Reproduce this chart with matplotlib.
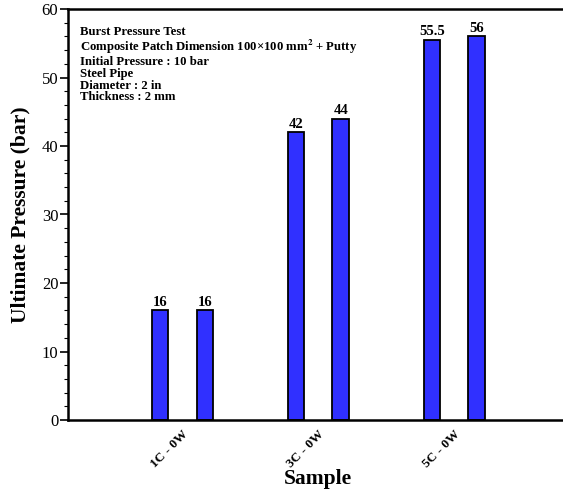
from matplotlib import pyplot as plt
from matplotlib.ticker import MultipleLocator
from matplotlib.transforms import ScaledTranslation
import numpy as np

plt.rcParams['font.family'] = ['Liberation Serif', 'DejaVu Serif']
plt.rcParams['mathtext.fontset'] = 'stix'

muestras = ['1C - 0W', '3C - 0W', '5C - 0W']
presion_1 = [16, 42, 55.5]
presion_2 = [16, 44, 56]
etiquetas_1 = ['16', '42', '55.5']
etiquetas_2 = ['16', '44', '56']

nota = ('Burst Pressure Test\n'
        'Composite Patch Dimension 100\u00d7100 mm$^{\\mathbf{2}}$ + Putty\n'
        'Initial Pressure : 10 bar\n'
        'Steel Pipe\n'
        'Diameter : 2 in\n'
        'Thickness : 2 mm')

fig = plt.figure(figsize=(5.63, 4.9), dpi=100)
ax = fig.add_axes([68/563, 70/490, 1 - 68/563, 411/490])

x = np.arange(len(muestras))
ancho = 0.12
sep = 0.165
b1 = ax.bar(x - sep, presion_1, ancho, color='#3030ff', edgecolor='black', linewidth=1.3)
b2 = ax.bar(x + sep, presion_2, ancho, color='#3030ff', edgecolor='black', linewidth=1.3)
ax.bar_label(b1, labels=etiquetas_1, padding=1, fontsize=10.5, fontweight='bold')
ax.bar_label(b2, labels=etiquetas_2, padding=1, fontsize=10.5, fontweight='bold')

ax.set_xlim(-0.84, 2.8)
ax.set_ylim(0, 60)
ax.set_xticks(x)
ax.set_xticklabels(muestras, rotation=45, ha='right', va='top', fontsize=9.5,
                   fontweight='bold', rotation_mode='anchor')
desplazar = ScaledTranslation(7/100, 0, fig.dpi_scale_trans)
for lab in ax.get_xticklabels():
    lab.set_transform(lab.get_transform() + desplazar)
ax.yaxis.set_major_locator(MultipleLocator(10))
ax.yaxis.set_minor_locator(MultipleLocator(2))
ax.tick_params(axis='y', which='major', length=6, width=1.2, labelsize=12, pad=1)
ax.tick_params(axis='y', which='minor', length=3, width=0.8)
ax.tick_params(axis='x', length=0, pad=6)

ax.spines['right'].set_visible(False)
for s in ['left', 'bottom', 'top']:
    ax.spines[s].set_linewidth(1.8)

ax.set_xlabel('Sample', fontsize=15.5, fontweight='bold', va='center')
ax.xaxis.set_label_coords((318 - 68) / 495, (420 - 479) / 411)
ax.set_ylabel('Ultimate Pressure (bar)', fontsize=15.5, fontweight='bold', labelpad=8)

ax.text(82/563 - 68/563, 0.958, nota, transform=ax.transAxes, fontsize=9.2,
        fontweight='bold', va='top', ha='left', linespacing=0.98)

fig.savefig('out.png', dpi=100)
